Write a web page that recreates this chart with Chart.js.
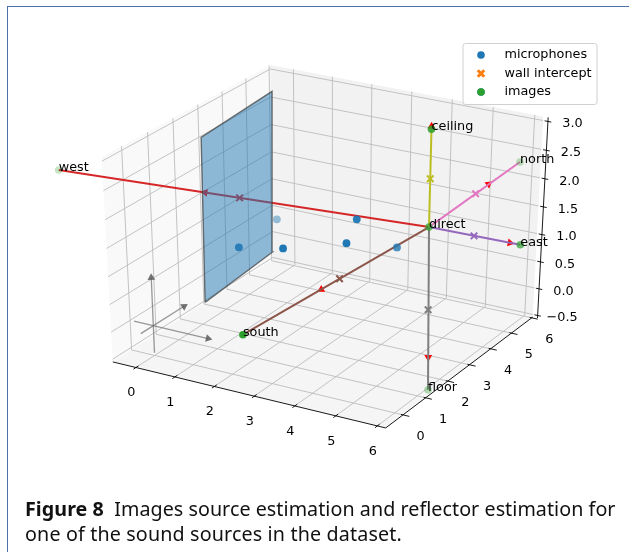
<!DOCTYPE html>
<html>
<head>
<meta charset="utf-8">
<title>Figure 8</title>
<script src="https://cdn.jsdelivr.net/npm/chart.js@4/dist/chart.umd.js"></script>
<style>
  html, body { margin: 0; padding: 0; background: #fff; }
  #page { position: relative; width: 629px; height: 552px; overflow: hidden; }
  #frame { position: absolute; left: 7px; top: 6px; width: 640px; height: 600px;
           border-top: 1.5px solid #4a72a6; border-left: 1.5px solid #4a72a6; }
  canvas { position: absolute; left: 0; top: 0; }
  .cap { position: absolute; left: 25px; white-space: nowrap; color: #111;
         font-family: "Noto Sans", sans-serif; font-size: 19.7px; line-height: 24px; }
</style>
</head>
<body>
<div id="page">
  <div id="frame"></div>
  <canvas id="chart" width="629" height="552"></canvas>
  <div class="cap" style="top:497px;letter-spacing:0.05px"><b>Figure 8</b>&nbsp; Images source estimation and reflector estimation for</div>
  <div class="cap" style="top:522px;letter-spacing:0.15px">one of the sound sources in the dataset.</div>
</div>
<script>
// data, metres in room coordinates
const micX = [1.64, 0.63, 0.77, 2.18, 2.69, 3.77];
const micY = [2.78, 4.21, 2.35, 5.10, 3.74, 4.08];
const micZ = [0.9, 0.9, 0.9, 0.9, 0.9, 0.9];
const micShade = [1, 0.45, 0.9, 0.95, 1, 0.8];

const imageNames = ['direct', 'west', 'east', 'north', 'south', 'ceiling', 'floor'];
const imageX = [4.65, -4.32, 6.82, 4.53, 4.21, 4.65, 4.75];
const imageY = [3.89, 2.91, 3.96, 8.45, -3.11, 3.89, 3.85];
const imageZ = [1.45, 1.41, 1.45, 1.45, 1.45, 3.15, -1.535];
const imageShade = [0.7, 0.28, 0.7, 0.3, 1, 0.85, 0.35];

// one entry per reflected path, same order as imageNames without direct
const pathColors = ['#d62728', '#9467bd', '#e377c2', '#8c564b', '#bcbd22', '#7f7f7f'];
const interceptX = [0.165, 5.73, 4.59, 4.43, 4.65, 4.69];
const interceptY = [3.40, 3.92, 6.17, 0.39, 3.89, 3.87];
const interceptZ = [1.43, 1.45, 1.45, 1.45, 2.30, -0.04];
const arrowX = [-0.67, 6.58, 4.56, 4.39, 4.65, 4.73];
const arrowY = [3.30, 3.95, 6.85, -0.30, 3.89, 3.86];
const arrowZ = [1.43, 1.45, 1.45, 1.45, 3.20, -0.92];

// reflector patch corners
const wallX = [0.15, 0.15, 0.15, 0.15];
const wallY = [1.88, 4.80, 4.87, 1.92];
const wallZ = [-0.08, 0.06, 2.97, 2.86];

// small coordinate arrows at the origin
const quiverFrom = [[-0.5, 0, 0], [0, -0.5, 0], [0, 0, -0.5]];
const quiverTo = [[1.4, 0, 0], [0, 1.25, 0], [0, 0, 0.87]];

const xTicks = [0, 1, 2, 3, 4, 5, 6];
const yTicks = [0, 1, 2, 3, 4, 5, 6];
const zTicks = [-0.5, 0, 0.5, 1, 1.5, 2, 2.5, 3];
const xLim = [-0.6, 6.2];
const yLim = [-0.75, 6.05];
const zLim = [-0.55, 3.07];

const legendNames = ['microphones', 'wall intercept', 'images'];

// same camera as mplot3d: elev 30, azim -60, dist 10
const elev = 30 * Math.PI / 180, azim = -60 * Math.PI / 180, dist = 10;
const camD = [Math.cos(elev) * Math.cos(azim), Math.cos(elev) * Math.sin(azim), Math.sin(elev)];
const camU = [-Math.sin(azim), Math.cos(azim), 0];
const camV = [-Math.sin(elev) * Math.cos(azim), -Math.sin(elev) * Math.sin(azim), Math.cos(elev)];
const dot = (a, b) => a[0] * b[0] + a[1] * b[1] + a[2] * b[2];

function project(p) {
    const n = [
        (p[0] - xLim[0]) / (xLim[1] - xLim[0]) - 0.5,
        (p[1] - yLim[0]) / (yLim[1] - yLim[0]) - 0.5,
        (p[2] - zLim[0]) / (zLim[1] - zLim[0]) - 0.5
    ];
    const w = dist - dot(n, camD);
    return {
        x: 326 + 315 * dist * dot(n, camU) / w,
        y: 240.3 - 234 * dist * dot(n, camV) / w
    };
}

const datasets = [];
function addLine(pts, color, width, extra) {
    datasets.push(Object.assign({
        data: pts.map(project),
        borderColor: color,
        borderWidth: width,
        pointRadius: 0,
        fill: false,
        tension: 0
    }, extra || {}));
}
function addMarks(pts, style, radius, fillColor, strokeColor, strokeWidth, rotation) {
    datasets.push({
        data: pts.map(project),
        showLine: false,
        pointStyle: style,
        pointRadius: radius,
        pointBackgroundColor: fillColor,
        pointBorderColor: strokeColor,
        pointBorderWidth: strokeWidth,
        pointRotation: rotation || 0
    });
}

const [x0, x1] = xLim, [y0, y1] = yLim, [z0, z1] = zLim;
// matplotlib pushes the z axis a little outside the pane
const zAxisX = x1 + 0.12;

// panes
addLine([[x0, y0, z0], [x0, y1, z0], [x0, y1, z1], [x0, y0, z1], [x0, y0, z0]], 'rgba(0,0,0,0)', 0,
    { fill: 'shape', backgroundColor: '#f9f9f9' });
addLine([[x0, y1, z0], [x1, y1, z0], [x1, y1, z1], [x0, y1, z1], [x0, y1, z0]], 'rgba(0,0,0,0)', 0,
    { fill: 'shape', backgroundColor: '#f2f2f2' });
addLine([[x0, y0, z0], [x1, y0, z0], [x1, y1, z0], [x0, y1, z0], [x0, y0, z0]], 'rgba(0,0,0,0)', 0,
    { fill: 'shape', backgroundColor: '#f5f5f5' });

// grid
const gridColor = '#bcbcbc';
xTicks.forEach(t => {
    addLine([[t, y0, z0], [t, y1, z0], [t, y1, z1]], gridColor, 0.9);
});
yTicks.forEach(t => {
    addLine([[x1, t, z0], [x0, t, z0], [x0, t, z1]], gridColor, 0.9);
});
zTicks.forEach(t => {
    addLine([[x0, y0, t], [x0, y1, t], [x1, y1, t]], gridColor, 0.9);
});

// axes and ticks
addLine([[x0, y0, z0], [x1, y0, z0]], '#000', 0.9);
addLine([[x1, y0, z0], [x1, y1, z0]], '#000', 0.9);
addLine([[zAxisX, y1, z0], [zAxisX, y1, z1]], '#000', 0.9);
xTicks.forEach(t => addLine([[t, y0 - 0.1, z0], [t, y0 + 0.1, z0]], '#000', 0.9));
yTicks.forEach(t => addLine([[x1 - 0.05, t, z0], [x1 + 0.15, t, z0]], '#000', 0.9));
zTicks.forEach(t => addLine([[zAxisX - 0.08, y1, t], [zAxisX + 0.08, y1, t]], '#000', 0.9));

// helper for arrow heads: rotation follows the projected direction
function headingTo(a, b) {
    const pa = project(a), pb = project(b);
    return Math.atan2(pb.x - pa.x, pa.y - pb.y) * 180 / Math.PI;
}

// coordinate arrows
quiverFrom.forEach((from, i) => {
    addLine([from, quiverTo[i]], 'rgba(110,110,110,0.7)', 1.3);
    addMarks([quiverTo[i]], 'triangle', 4.4, 'rgba(90,90,90,0.85)', 'rgba(90,90,90,0)', 0, headingTo(from, quiverTo[i]));
});

// reflected paths
const direct = [imageX[0], imageY[0], imageZ[0]];
pathColors.forEach((color, i) => {
    const end = [imageX[i + 1], imageY[i + 1], imageZ[i + 1]];
    const arrow = [arrowX[i], arrowY[i], arrowZ[i]];
    addMarks([arrow], 'triangle', 4.5, '#ff0000', '#ff0000', 0, headingTo(direct, end));
    addLine([direct, end], color, 2);
    addMarks([[interceptX[i], interceptY[i], interceptZ[i]]], 'crossRot', 4.6, color, color, 2);
});

// reflector patch
addLine(wallX.map((x, i) => [x, wallY[i], wallZ[i]]).concat([[wallX[0], wallY[0], wallZ[0]]]),
    'rgba(70,70,70,0.75)', 1.4, { fill: 'shape', backgroundColor: 'rgba(31,119,180,0.5)' });

// microphones and images, faded by depth
datasets.push({
    data: micX.map((x, i) => project([x, micY[i], micZ[i]])),
    showLine: false, pointRadius: 3.9, pointBorderWidth: 0,
    pointBackgroundColor: micShade.map(a => `rgba(31,119,180,${a})`)
});
datasets.push({
    data: imageX.map((x, i) => project([x, imageY[i], imageZ[i]])),
    showLine: false, pointRadius: 3.8, pointBorderWidth: 0,
    pointBackgroundColor: imageShade.map(a => `rgba(44,160,44,${a})`)
});

// chart.js paints higher order first
datasets.forEach((d, i) => { d.order = datasets.length - i; });

const textPlugin = {
    id: 'textPlugin',
    afterDatasetsDraw(chart) {
        const ctx = chart.ctx;
        const sx = chart.scales.x, sy = chart.scales.y;
        const at = p => { const q = project(p); return [sx.getPixelForValue(q.x), sy.getPixelForValue(q.y)]; };
        ctx.save();
        ctx.font = '12.8px "DejaVu Sans"';
        ctx.fillStyle = '#000';

        ctx.textAlign = 'center';
        ctx.textBaseline = 'middle';
        xTicks.forEach(t => {
            const [px, py] = at([t, y0, z0]);
            ctx.fillText(String(t), px - 4.5, py + 25.5);
        });
        yTicks.forEach(t => {
            const [px, py] = at([x1, t, z0]);
            ctx.fillText(String(t), px + 17.5, py + 22);
        });
        zTicks.forEach(t => {
            const [px, py] = at([zAxisX, y1, t]);
            ctx.fillText(t.toFixed(1).replace('-', '\u2212'), px + 24.5, py + 2.5);
        });

        ctx.textAlign = 'left';
        ctx.textBaseline = 'alphabetic';
        imageNames.forEach((name, i) => {
            const [px, py] = at([imageX[i], imageY[i], imageZ[i]]);
            ctx.fillText(name, px, py + 1);
        });

        // legend box
        const bx = 463, by = 43.5, bw = 134, bh = 61;
        ctx.beginPath();
        ctx.roundRect(bx, by, bw, bh, 2.5);
        ctx.fillStyle = 'rgba(255,255,255,0.8)';
        ctx.fill();
        ctx.strokeStyle = '#d0d0d0';
        ctx.lineWidth = 1;
        ctx.stroke();
        const rows = [55, 73.5, 92];
        const helpers = Chart.helpers;
        helpers.drawPoint(ctx, { pointStyle: 'circle', radius: 3.8, borderWidth: 0 }, 481, rows[0]);
        ctx.fillStyle = '#1f77b4';
        ctx.fill();
        ctx.strokeStyle = '#ff7f0e';
        ctx.lineWidth = 3;
        helpers.drawPoint(ctx, { pointStyle: 'crossRot', radius: 4.6, borderWidth: 3 }, 481, rows[1]);
        helpers.drawPoint(ctx, { pointStyle: 'circle', radius: 3.8, borderWidth: 0 }, 481, rows[2]);
        ctx.fillStyle = '#2ca02c';
        ctx.fill();
        ctx.fillStyle = '#000';
        ctx.textBaseline = 'middle';
        legendNames.forEach((name, i) => ctx.fillText(name, 504.5, rows[i]));
        ctx.restore();
    }
};

new Chart(document.getElementById('chart'), {
    type: 'line',
    data: { datasets },
    options: {
        responsive: false,
        animation: false,
        devicePixelRatio: 1,
        layout: { padding: 0, autoPadding: false },
        events: [],
        scales: {
            x: { type: 'linear', min: 0, max: 629, display: false },
            y: { type: 'linear', min: 0, max: 552, reverse: true, display: false }
        },
        plugins: { legend: { display: false }, tooltip: { enabled: false } }
    },
    plugins: [textPlugin]
});
</script>
</body>
</html>
